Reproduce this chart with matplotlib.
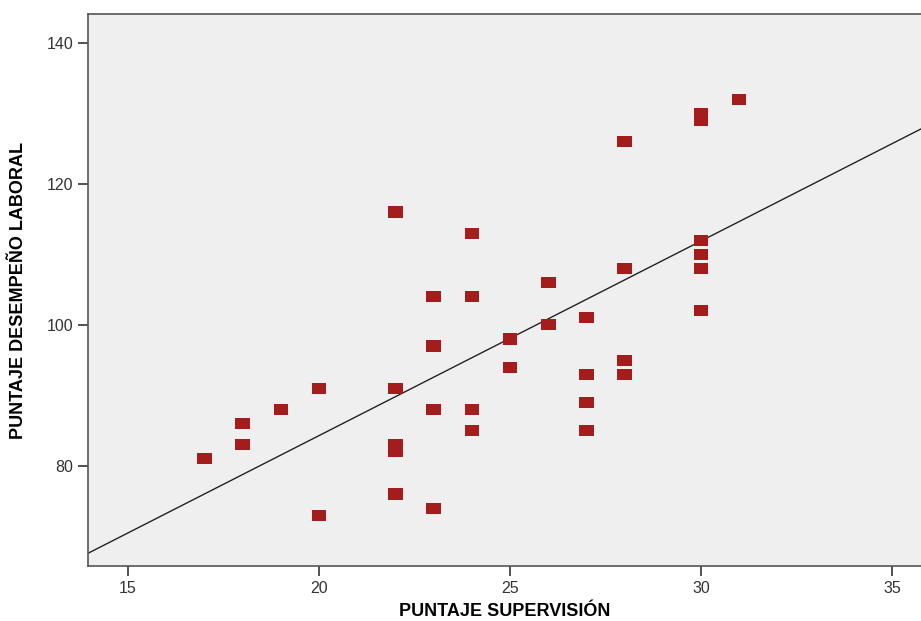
import numpy as np
import matplotlib.pyplot as plt

# Datos
supervision = [17, 18, 18, 19, 20, 20,
               22, 22, 22, 22, 22,
               23, 23, 23, 23,
               24, 24, 24, 24,
               25, 25, 26, 26,
               27, 27, 27, 27,
               28, 28, 28, 28,
               30, 30, 30, 30, 30, 30,
               31]
desempeno = [81, 86, 83, 88, 91, 73,
             116, 91, 83, 82, 76,
             104, 97, 88, 74,
             113, 104, 88, 85,
             98, 94, 106, 100,
             101, 93, 89, 85,
             126, 108, 95, 93,
             130, 129, 112, 110, 108, 102,
             132]

# recta de ajuste
intercept = 29.1
slope = 2.76

xlim = (13.95, 35.76)
ylim = (65.8, 144.1)

plt.rcParams['font.family'] = ['Liberation Sans', 'DejaVu Sans']

fig = plt.figure(figsize=(9.21, 6.21), dpi=100)
ax = fig.add_axes([88/921, 1-566/621, 1-88/921, (566-14)/621])
ax.set_facecolor('#efefef')

xs = np.array(xlim)
ax.plot(xs, intercept + slope*xs, color='#222222', lw=1.0, zorder=2)

rect = [(-1.3, -1), (1.3, -1), (1.3, 1), (-1.3, 1), (-1.3, -1)]
ax.scatter(supervision, desempeno, marker=rect, s=110, color='#a51c1c',
           edgecolors='none', zorder=3)

ax.set_xlim(*xlim)
ax.set_ylim(*ylim)
ax.set_xticks([15, 20, 25, 30, 35])
ax.set_yticks([80, 100, 120, 140])

for s in ['left', 'top', 'bottom']:
    ax.spines[s].set_color('#555555')
    ax.spines[s].set_linewidth(1.2)
ax.spines['right'].set_visible(False)

ax.tick_params(direction='out', length=7, width=1.2, color='#333333',
               labelsize=11.5, labelcolor='#333333')

ax.set_xlabel('PUNTAJE SUPERVISIÓN', fontsize=13, fontweight='bold', labelpad=5)
ax.set_ylabel('PUNTAJE DESEMPEÑO LABORAL', fontsize=13, fontweight='bold', labelpad=14)

fig.savefig('out.png', dpi=100)
